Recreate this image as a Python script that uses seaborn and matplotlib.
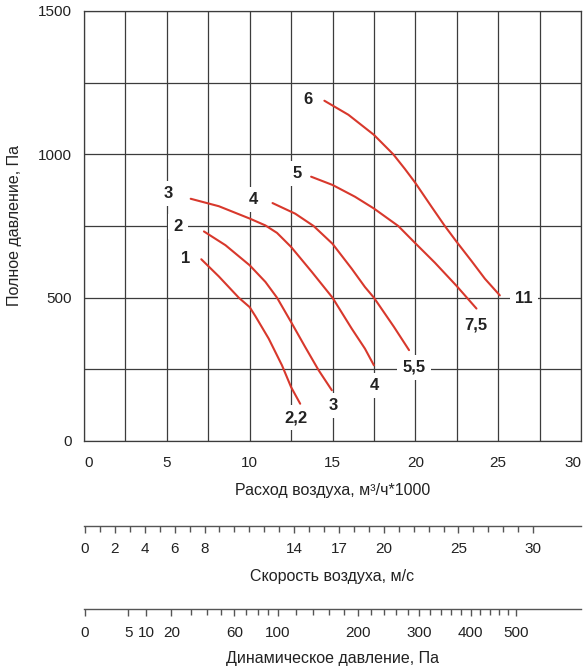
import numpy as np
import pandas as pd
import matplotlib
matplotlib.use("Agg")
import matplotlib.pyplot as plt
import seaborn as sns

# ---------------- data ----------------
start_labels = ["1", "2", "3", "4", "5", "6"]
end_labels = ["2,2", "3", "4", "5,5", "7,5", "11"]

flow_1 = [7.08, 8.14, 9.34, 10.0, 10.35, 11.15, 11.95, 12.5, 13.05]
pres_1 = [634, 574, 500, 467, 435, 357, 264, 188, 130]
flow_2 = [7.24, 8.54, 10.0, 10.95, 11.65, 12.5, 13.35, 14.16, 14.96]
pres_2 = [731, 683, 613, 555, 500, 415, 328, 247, 177]
flow_3 = [6.44, 8.14, 10.0, 10.95, 11.65, 12.5, 13.75, 15.0, 16.16, 16.96, 17.5]
pres_3 = [845, 819, 776, 752, 726, 677, 590, 500, 392, 322, 264]
flow_4 = [11.38, 12.75, 13.86, 15.0, 16.16, 16.96, 17.5, 18.71, 19.62]
pres_4 = [830, 793, 750, 688, 601, 537, 500, 398, 317]
flow_5 = [13.71, 15.01, 16.36, 17.5, 18.97, 19.98, 21.18, 22.49, 23.69]
pres_5 = [922, 893, 852, 811, 750, 691, 622, 541, 462]
flow_6 = [14.51, 15.96, 17.5, 18.67, 19.37, 19.98, 20.98, 21.78, 22.49, 23.39, 24.2, 25.1]
pres_6 = [1187, 1138, 1068, 1000, 949, 902, 817, 750, 695, 628, 566, 508]

flow_ticks = [0, 5, 10, 15, 20, 25, 30]
pres_ticks = [0, 500, 1000, 1500]

speed_labeled = [0, 2, 4, 6, 8, 14, 17, 20, 25, 30]
speed_minor = list(range(0, 31))
dyn_labeled = [0, 5, 10, 20, 60, 100, 200, 300, 400, 500]
dyn_minor = [0, 5, 10] + list(range(20, 100, 10)) + list(range(100, 501, 20))

flows = [flow_1, flow_2, flow_3, flow_4, flow_5, flow_6]
press = [pres_1, pres_2, pres_3, pres_4, pres_5, pres_6]
df = pd.concat([pd.DataFrame({"curve": n, "flow": f, "pres": p})
                for n, f, p in zip(start_labels, flows, press)], ignore_index=True)

# ---------------- style ----------------
sns.set_theme(style="white")
plt.rcParams["font.family"] = ["Liberation Sans", "DejaVu Sans"]
plt.rcParams["text.color"] = "#222222"

W, H = 586, 669
fig = plt.figure(figsize=(W / 100, H / 100), dpi=100)

def fx(px):
    return px / W

def fy(py):
    return 1 - py / H

L, R, T, B = 84, 581, 11, 441
ax = fig.add_axes([fx(L), fy(B), (R - L) / W, (B - T) / H])

red = "#d8382c"
gridc = "#3c3c3c"
sns.lineplot(data=df, x="flow", y="pres", hue="curve", units="curve",
             estimator=None, sort=False, palette=[red] * 6, legend=False,
             linewidth=1.5, ax=ax, zorder=3)

ax.set_xlim(0, 30)
ax.set_ylim(0, 1500)
ax.set_xticks(flow_ticks)
ax.set_yticks(pres_ticks)
ax.set_xticks(np.arange(0, 30.01, 2.5), minor=True)
ax.set_yticks(np.arange(0, 1500.1, 250), minor=True)
ax.grid(which="both", color=gridc, linewidth=0.9)
ax.set_axisbelow(True)
for s in ax.spines.values():
    s.set_color(gridc)
    s.set_linewidth(0.9)
ax.tick_params(which="both", length=0)
ax.tick_params(axis="x", pad=11, labelsize=11, colors="#222222")
ax.tick_params(axis="y", pad=8.5, labelsize=11, colors="#222222")
ax.set_xlabel("")
ax.set_ylabel("")
xl = ax.get_xticklabels()
xl[0].set_ha("left")
xl[-1].set_ha("right")

# curve labels
start_off = [(-16, 1), (-26, 5), (-22, 5), (-19, 4), (-14, 3), (-16, 1)]
end_off = [(-4, -14), (1, -15), (0, -20), (5, -17), (-1, -16), (24, -3)]
box = dict(boxstyle="square,pad=0.3", fc="white", ec="none")
for i in range(6):
    ax.annotate(start_labels[i], (flows[i][0], press[i][0]), xytext=start_off[i],
                textcoords="offset pixels", ha="center", va="center",
                fontsize=12, fontweight="bold", color="#222222", bbox=box, zorder=4)
    ax.annotate(end_labels[i], (flows[i][-1], press[i][-1]), xytext=end_off[i],
                textcoords="offset pixels", ha="center", va="center",
                fontsize=12, fontweight="bold", color="#222222", bbox=box, zorder=4)

fig.text(fx(15), fy((T + B) / 2), "Полное давление, Па", rotation=90,
         ha="center", va="center", fontsize=11.5)
fig.text(fx((L + R) / 2), fy(491), "Расход воздуха, м³/ч*1000",
         ha="center", va="center", fontsize=11.5)

# ---------------- speed scale ----------------
s_left = -0.067
s_right = 33.2
axc = "#555555"

def scale_axis(ypx):
    a = fig.add_axes([fx(L), fy(ypx), (R - L) / W, 0.0001])
    a.set_facecolor("none")
    for k in ["top", "left", "right"]:
        a.spines[k].set_visible(False)
    a.spines["bottom"].set_color(axc)
    a.spines["bottom"].set_linewidth(1.0)
    a.set_yticks([])
    a.grid(False)
    return a

def style_ticks(a):
    a.tick_params(axis="x", which="both", bottom=True, top=False, direction="out",
                  width=1, color=axc)
    a.tick_params(axis="x", which="major", length=5, pad=7, labelsize=11,
                  labelcolor="#222222")
    a.tick_params(axis="x", which="minor", length=4)

ax2 = scale_axis(525.7)
ax2.set_xlim(s_left, s_right)
ax2.set_xticks(speed_labeled)
ax2.set_xticklabels([str(v) for v in speed_labeled])
ax2.set_xticks(speed_minor, minor=True)
style_ticks(ax2)
fig.text(fx((L + R) / 2), fy(577), "Скорость воздуха, м/с",
         ha="center", va="center", fontsize=11.5)

# ---------------- dynamic pressure scale ----------------
rho_half = 0.6

def fwd(p):
    p = np.asarray(p, dtype=float)
    return np.sign(p) * np.sqrt(np.abs(p) / rho_half)

def inv(v):
    v = np.asarray(v, dtype=float)
    return np.sign(v) * rho_half * v ** 2

ax3 = scale_axis(609)
ax3.set_xscale("function", functions=(fwd, inv))
ax3.set_xlim(inv(s_left), inv(s_right))
ax3.set_xticks(dyn_labeled)
ax3.set_xticklabels([str(v) for v in dyn_labeled])
ax3.set_xticks(dyn_minor, minor=True)
style_ticks(ax3)
fig.text(fx((L + R) / 2), fy(659), "Динамическое давление, Па",
         ha="center", va="center", fontsize=11.5)

fig.savefig("out.png", dpi=100, facecolor="white")
